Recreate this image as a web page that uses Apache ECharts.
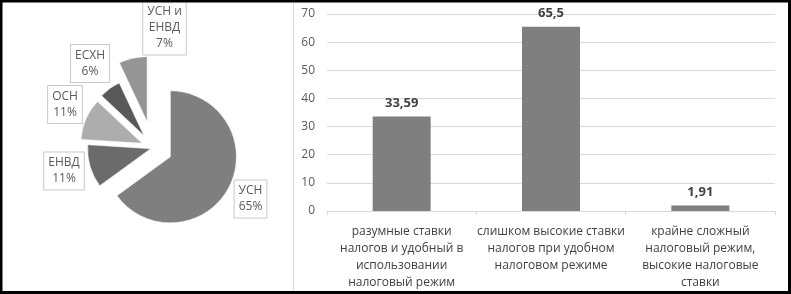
<!DOCTYPE html>
<html>
<head>
<meta charset="utf-8">
<script src="https://cdn.jsdelivr.net/npm/echarts@6/dist/echarts.min.js"></script>
<style>
html,body{margin:0;padding:0;background:#fff;}
#main{width:791px;height:294px;}
</style>
</head>
<body>
<div id="main"></div>
<script>
// ---- data ----
const pieNames = ['УСН', 'ЕНВД', 'ОСН', 'ЕСХН', 'УСН и\nЕНВД'];
const pieValues = [65, 11, 11, 6, 7];
const barCategories = [
  'разумные ставки\nналогов и удобный в\nиспользовании\nналоговый режим',
  'слишком высокие ставки\nналогов при удобном\nналоговом режиме',
  'крайне сложный\nналоговый режим,\nвысокие налоговые\nставки'
];
const barValues = [33.59, 65.5, 1.91];
const yMin = 0, yMax = 70, yStep = 10;

// ---- style ----
const pieCenter = [153, 148];
const explode = [19.5, 2.4, 12, 15.5, 27];
const sliceRadius = [66, 63, 61, 58, 65];
const sliceColors = ['#7f7f7f', '#6b6b6b', '#adadad', '#595959', '#959595'];
const labelPos = [[250.5, 199], [64, 171], [65, 104.5], [90, 63.5], [164.5, 28]];
const FONT = '"Open Sans", "Liberation Sans", sans-serif';

const chart = echarts.init(document.getElementById('main'), null, {renderer: 'canvas'});

const total = pieValues.reduce((a, b) => a + b, 0);
const pieSeries = [];
let acc = 0;
pieValues.forEach((v, i) => {
  const mid = (acc + v / 2) / total * 2 * Math.PI;
  acc += v;
  const cx = pieCenter[0] + explode[i] * Math.sin(mid);
  const cy = pieCenter[1] - explode[i] * Math.cos(mid);
  const lp = labelPos[i];
  pieSeries.push({
    type: 'pie',
    silent: true,
    center: [cx, cy],
    radius: [0, sliceRadius[i]],
    startAngle: 90,
    clockwise: true,
    avoidLabelOverlap: false,
    animation: false,
    labelLine: {show: false},
    labelLayout: function () {
      return {x: lp[0], y: lp[1], align: 'center', verticalAlign: 'middle'};
    },
    data: pieValues.map((val, j) => ({
      name: pieNames[j],
      value: val,
      itemStyle: j === i ? {color: sliceColors[i], borderColor: '#ffffff', borderWidth: 0.5} : {color: 'rgba(0,0,0,0)'},
      label: j === i ? {
        show: true,
        formatter: '{b}\n{c}%',
        fontFamily: FONT,
        fontSize: 12,
        lineHeight: 16,
        color: '#595959',
        backgroundColor: '#ffffff',
        borderColor: '#c8c8c8',
        borderWidth: 1,
        padding: [3, 4, 2, 4],
        align: 'center'
      } : {show: false}
    }))
  });
});

const option = {
  animation: false,
  backgroundColor: '#ffffff',
  grid: {left: 327, right: 16, top: 14, bottom: 83},
  xAxis: {
    type: 'category',
    data: barCategories,
    axisLine: {show: true, lineStyle: {color: '#d9d9d9', width: 1}},
    axisTick: {show: true, length: 4, lineStyle: {color: '#d9d9d9'}},
    axisLabel: {
      interval: 0,
      margin: 12,
      fontFamily: FONT,
      fontSize: 12,
      lineHeight: 17,
      color: '#404040',
      align: 'center'
    }
  },
  yAxis: {
    type: 'value',
    min: yMin,
    max: yMax,
    interval: yStep,
    axisLine: {show: false},
    axisTick: {show: false},
    splitLine: {lineStyle: {color: '#d9d9d9', width: 1}},
    axisLabel: {margin: 12, fontFamily: FONT, fontSize: 12, color: '#595959'}
  },
  series: [{
    type: 'bar',
    data: barValues,
    barWidth: 58,
    itemStyle: {color: '#7f7f7f'},
    label: {
      show: true,
      position: 'top',
      distance: 7,
      fontFamily: FONT,
      fontSize: 13,
      fontWeight: 'bold',
      color: '#404040',
      formatter: p => String(p.value).replace('.', ',')
    }
  }].concat(pieSeries),
  graphic: [
    {type: 'line', shape: {x1: 293.5, y1: 3, x2: 293.5, y2: 291}, style: {stroke: '#d9d9d9', lineWidth: 1}, silent: true},
    {type: 'rect', shape: {x: 1, y: 1, width: 788.5, height: 291.5}, style: {fill: null, stroke: '#000000', lineWidth: 3}, silent: true, z: 100}
  ]
};
chart.setOption(option);
</script>
</body>
</html>
